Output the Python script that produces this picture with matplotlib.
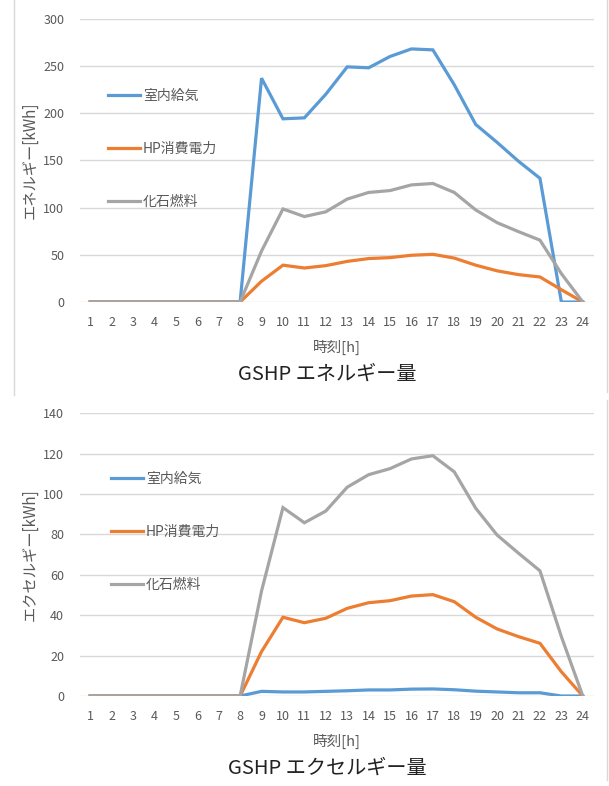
import matplotlib.pyplot as plt
from matplotlib.lines import Line2D

plt.rcParams['font.family'] = ['Noto Sans CJK JP', 'DejaVu Sans']

hours = list(range(1, 25))
labels = ['室内給気', 'HP消費電力', '化石燃料']
colors = ['#5B9BD5', '#ED7D31', '#A5A5A5']

# energy [kWh]
energy_supply = [0, 0, 0, 0, 0, 0, 0, 0, 237, 194, 195, 220, 249, 248, 260, 268, 267, 230, 188, 169, 149, 131, 0, 0]
energy_hp = [0, 0, 0, 0, 0, 0, 0, 0, 22, 39, 36, 38.5, 43, 46, 47, 49.5, 50.5, 46.5, 39, 33, 29, 26.5, 13, 0]
energy_fossil = [0, 0, 0, 0, 0, 0, 0, 0, 54, 98.5, 90.5, 95.5, 109, 116, 118, 124, 125.5, 116, 97.5, 84, 74.5, 65.5, 30, 0]

# exergy [kWh]
exergy_supply = [0, 0, 0, 0, 0, 0, 0, 0, 2.3, 2, 2, 2.3, 2.6, 3, 3, 3.4, 3.5, 3.1, 2.4, 2, 1.6, 1.6, 0, 0]
exergy_hp = [0, 0, 0, 0, 0, 0, 0, 0, 22, 39, 36.3, 38.5, 43.4, 46.2, 47.2, 49.5, 50.2, 46.7, 39, 33.2, 29.4, 26.1, 12, 0]
exergy_fossil = [0, 0, 0, 0, 0, 0, 0, 0, 52, 93.3, 85.8, 91.6, 103.4, 109.6, 112.6, 117.4, 119, 111, 93, 79.7, 70.7, 62, 29.4, 0]

W, H = 609, 786
fig = plt.figure(figsize=(W / 100, H / 100), dpi=100)

text_col = '#595959'
grid_col = '#D9D9D9'


def draw(ax, series, ymax, ystep, ylabel, title, leg_top, leg_left):
    for vals, lab, c in zip(series, labels, colors):
        ax.plot(hours, vals, color=c, lw=2.3, label=lab, solid_joinstyle='miter')
    ax.set_xlim(0.5, 24.5)
    ax.set_ylim(0, ymax)
    ax.set_xticks(hours)
    ax.set_yticks(range(0, ymax + 1, ystep))
    ax.yaxis.grid(True, color=grid_col, lw=1)
    ax.set_axisbelow(True)
    for s in ax.spines.values():
        s.set_visible(False)
    ax.tick_params(length=0, labelsize=9, colors=text_col)
    ax.tick_params(axis='x', pad=10)
    ax.tick_params(axis='y', pad=11)
    ax.set_ylabel(ylabel, fontsize=11, color=text_col)
    ax.yaxis.set_label_coords(-0.079, 0.5)
    ax.set_xlabel(title[0], fontsize=10.5, color=text_col, labelpad=8)
    fig.text(0.537, title[2], title[1], ha='center', va='center', fontsize=14.5, color='#222222')
    ax.legend(loc='upper left', bbox_to_anchor=(leg_left / W, 1 - leg_top / H),
              bbox_transform=fig.transFigure, frameon=False, fontsize=10,
              labelspacing=2.8, handlelength=2.3, handletextpad=0.2,
              borderpad=0, borderaxespad=0, labelcolor=text_col)


ax1 = fig.add_axes([79.5 / W, 1 - 302 / H, 514 / W, 283.3 / H])
draw(ax1, [energy_supply, energy_hp, energy_fossil], 300, 50,
     'エネルギー[kWh]', ('時刻[h]', 'GSHP エネルギー量', 1 - 374 / H), 89, 108)

ax2 = fig.add_axes([79.5 / W, 1 - 696 / H, 514 / W, 282.7 / H])
draw(ax2, [exergy_supply, exergy_hp, exergy_fossil], 140, 20,
     'エクセルギー[kWh]', ('時刻[h]', 'GSHP エクセルギー量', 1 - 768 / H), 472, 111)

# chart area borders
fig.add_artist(Line2D([14 / W, 14 / W], [1, 1 - 395 / H], color=grid_col, lw=1))
fig.add_artist(Line2D([607 / W, 607 / W], [1, 1 - 392 / H], color=grid_col, lw=1))
fig.add_artist(Line2D([607 / W, 607 / W], [1 - 400 / H, 1 - 780 / H], color=grid_col, lw=1))

fig.savefig('out.png', dpi=100)
